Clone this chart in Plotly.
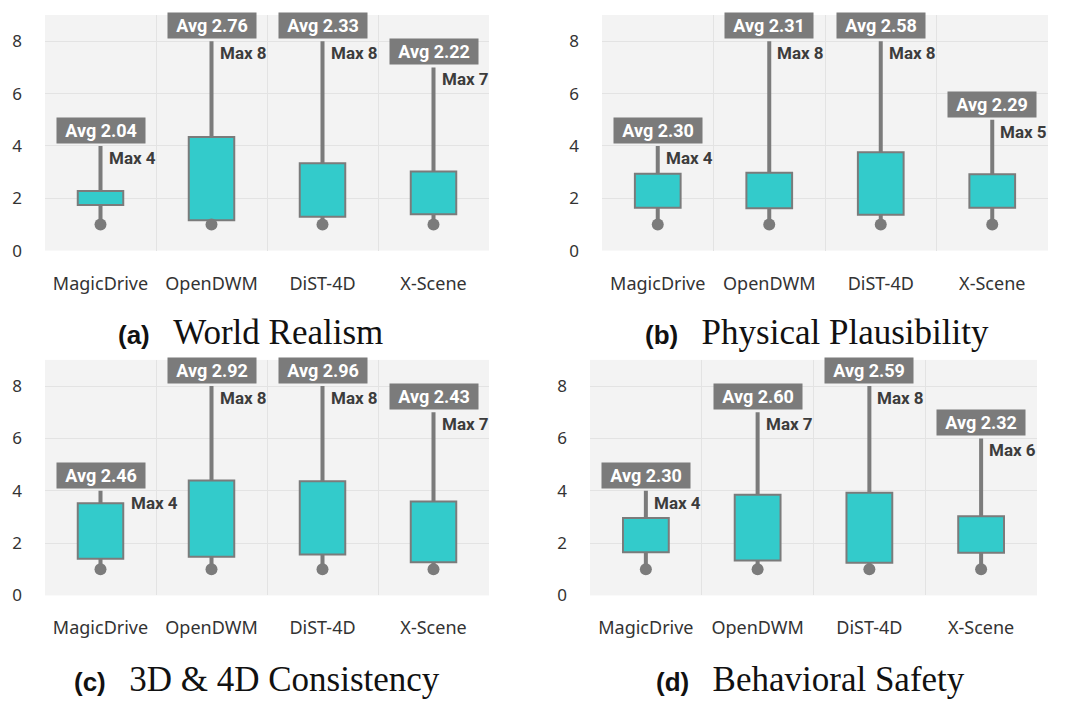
import plotly.graph_objects as go

categories = ["MagicDrive", "OpenDWM", "DiST-4D", "X-Scene"]

panel_letters = ["(a)", "(b)", "(c)", "(d)"]
panel_titles = ["World Realism", "Physical Plausibility", "3D &amp; 4D Consistency", "Behavioral Safety"]

# per panel: min, q1, q3, max, avg
mins = [[1, 1, 1, 1], [1, 1, 1, 1], [1, 1, 1, 1], [1, 1, 1, 1]]
q1s = [[1.74, 1.16, 1.29, 1.39],
       [1.64, 1.62, 1.37, 1.64],
       [1.40, 1.48, 1.56, 1.27],
       [1.65, 1.34, 1.25, 1.63]]
q3s = [[2.28, 4.34, 3.34, 3.02],
       [2.94, 2.97, 3.76, 2.92],
       [3.52, 4.39, 4.36, 3.59],
       [2.96, 3.85, 3.92, 3.03]]
maxs = [[4, 8, 8, 7],
        [4, 8, 8, 5],
        [4, 8, 8, 7],
        [4, 7, 8, 6]]
avgs = [[2.04, 2.76, 2.33, 2.22],
        [2.30, 2.31, 2.58, 2.29],
        [2.46, 2.92, 2.96, 2.43],
        [2.30, 2.60, 2.59, 2.32]]

W, H = 1080, 705
K = 0.982  # observed vertical rendering scale of the capture


def py(y):
    return y / K


# panel pixel boxes (left, right, top, bottom)
boxes = [(45, 489, 15, 250), (602, 1048, 15, 250),
         (45, 489, 359, 594), (590, 1037, 359, 594)]
title_pos = [(250, 332), (817, 332), (257, 678), (810, 678)]

TEAL = "#33CBCB"
GRAY = "#7B7B7B"
DARK = "#3C3C3C"

fig = go.Figure()
annotations = []

for p in range(4):
    sfx = "" if p == 0 else str(p + 1)
    xa, ya = "x" + sfx, "y" + sfx
    l, r, t, b = boxes[p]

    # box (q1..q3)
    fig.add_trace(go.Bar(
        x=categories, y=[q3s[p][i] - q1s[p][i] for i in range(4)], base=q1s[p],
        width=0.41, marker=dict(color=TEAL, line=dict(color=GRAY, width=2)),
        xaxis=xa, yaxis=ya, showlegend=False, hoverinfo="skip"))

    # whiskers
    wx, wy = [], []
    for i, c in enumerate(categories):
        wx += [c, c, None, c, c, None]
        wy += [mins[p][i], q1s[p][i], None, q3s[p][i], maxs[p][i], None]
    fig.add_trace(go.Scatter(x=wx, y=wy, mode="lines",
                             line=dict(color=GRAY, width=4),
                             xaxis=xa, yaxis=ya, showlegend=False, hoverinfo="skip"))
    # min dots
    fig.add_trace(go.Scatter(x=categories, y=mins[p], mode="markers",
                             marker=dict(color=GRAY, size=12),
                             xaxis=xa, yaxis=ya, showlegend=False, hoverinfo="skip"))

    for i, c in enumerate(categories):
        annotations.append(dict(
            x=c, y=maxs[p][i], xref=xa, yref=ya,
            text="<b>&nbsp;&#8202;Avg %.2f&#8202;&nbsp;</b>" % avgs[p][i],
            showarrow=False, xanchor="center", yanchor="bottom", yshift=2,
            bgcolor=GRAY, borderpad=2,
            font=dict(family="Roboto, Liberation Sans, sans-serif", size=18, color="white")))
        shift = 28 if q3s[p][i] > maxs[p][i] - 0.8 else 6
        annotations.append(dict(
            x=c, y=maxs[p][i] - 0.45, xref=xa, yref=ya, text="<b>Max %d</b>" % maxs[p][i],
            showarrow=False, xanchor="left", yanchor="middle", xshift=shift,
            font=dict(family="Roboto, Liberation Sans, sans-serif", size=17, color=DARK)))

    tx, ty = title_pos[p]
    annotations.append(dict(
        x=tx / W, y=1 - py(ty) / H, xref="paper", yref="paper", showarrow=False,
        xanchor="center", yanchor="middle",
        text=("<span style='font-family:Liberation Sans, Arial, sans-serif;font-size:26px'><b>%s</b></span>"
              "&nbsp;&nbsp;&nbsp;<span style='font-family:Liberation Serif, DejaVu Serif, serif;font-size:35px'>%s</span>")
             % (panel_letters[p], panel_titles[p]),
        font=dict(color="#111111", size=30)))

    fig.update_layout(**{
        "xaxis" + sfx: dict(
            domain=[l / W, r / W], anchor=ya, type="category",
            categoryorder="array", categoryarray=categories,
            range=[-0.5, 3.5], tickson="boundaries", ticks="",
            showgrid=True, gridcolor="#E3E3E3", gridwidth=1,
            showline=False, zeroline=False, ticklabelstandoff=20,
            tickfont=dict(family="Noto Sans, Open Sans, sans-serif", size=18, color="#333333")),
        "yaxis" + sfx: dict(
            domain=[1 - py(b) / H, 1 - py(t) / H], anchor=xa, range=[0, 9],
            tickvals=[0, 2, 4, 6, 8], showgrid=True, gridcolor="#E3E3E3", gridwidth=1,
            zeroline=False, showline=False, ticks="", ticklabelstandoff=22,
            tickfont=dict(family="Noto Sans, Open Sans, sans-serif", size=17, color="#333333")),
    })

fig.update_layout(
    width=W, height=H, margin=dict(l=0, r=0, t=0, b=0),
    paper_bgcolor="white", plot_bgcolor="#F3F3F3",
    annotations=annotations, showlegend=False, barmode="overlay")

fig.write_html(
    "out.html",
    config={"displayModeBar": False},
    post_script=("document.documentElement.style.margin='0';"
                 "document.documentElement.style.overflow='hidden';"
                 "document.body.style.margin='0';"
                 "document.body.style.overflow='hidden';"))
